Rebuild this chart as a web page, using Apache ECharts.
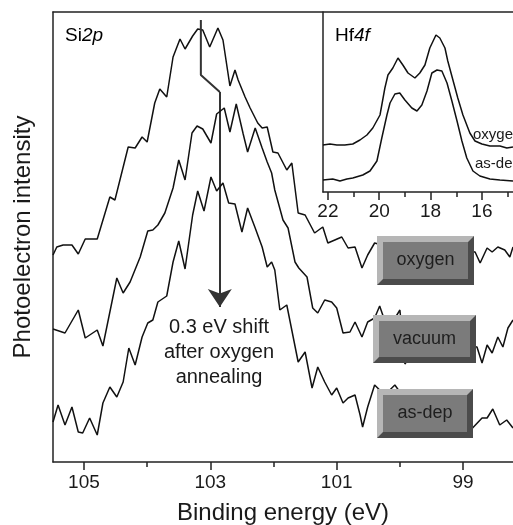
<!DOCTYPE html>
<html>
<head>
<meta charset="utf-8">
<script src="https://cdn.jsdelivr.net/npm/echarts@6/dist/echarts.min.js"></script>
<style>
html, body { margin: 0; padding: 0; background: #fff; }
#chart { width: 513px; height: 525px; }
</style>
</head>
<body>
<div id="chart"></div>
<script>
// Si2p spectra, [binding energy (eV), intensity (a.u.)]
var si2pOxygen = [
  [105.49, 207], [105.43, 215], [105.33, 217], [105.19, 217], [105.09, 208], [104.98, 223],
  [104.79, 223], [104.59, 265], [104.51, 262], [104.30, 315], [104.19, 314], [104.08, 325],
  [104.00, 320], [103.88, 359], [103.80, 373], [103.69, 365], [103.59, 405], [103.48, 423],
  [103.40, 413], [103.28, 426], [103.20, 433], [103.12, 432], [103.01, 415], [102.88, 434],
  [102.80, 422], [102.69, 376], [102.61, 392], [102.56, 382], [102.45, 365], [102.37, 354],
  [102.25, 339], [102.18, 334], [102.10, 335], [102.01, 310], [101.93, 309], [101.79, 292],
  [101.71, 299], [101.61, 249], [101.50, 247], [101.35, 229], [101.22, 235], [101.14, 219],
  [101.03, 222], [100.92, 225], [100.82, 214], [100.71, 215], [100.60, 194], [100.51, 207],
  [100.40, 219], [100.00, 212], [99.53, 207], [99.13, 212], [98.81, 210], [98.73, 199],
  [98.62, 214], [98.54, 210], [98.45, 215], [98.34, 212], [98.26, 205], [98.21, 215]
];
var si2pVacuum = [
  [105.49, 133], [105.30, 129], [105.09, 152], [104.98, 124], [104.79, 132], [104.70, 116],
  [104.48, 184], [104.38, 169], [104.27, 180], [104.11, 205], [103.99, 231], [103.91, 232],
  [103.83, 237], [103.72, 249], [103.59, 274], [103.50, 302], [103.40, 282], [103.29, 329],
  [103.21, 336], [103.12, 333], [102.99, 319], [102.90, 348], [102.78, 354], [102.69, 330],
  [102.59, 358], [102.48, 328], [102.41, 310], [102.29, 334], [102.18, 314], [102.10, 300],
  [102.03, 289], [101.98, 272], [101.85, 242], [101.77, 234], [101.66, 200], [101.60, 194],
  [101.47, 185], [101.38, 154], [101.30, 149], [101.19, 162], [101.08, 160], [101.00, 154],
  [100.90, 129], [100.79, 130], [100.71, 140], [100.60, 125], [100.51, 140], [100.40, 144],
  [100.32, 156], [100.19, 132], [100.00, 152], [99.92, 98], [99.68, 122], [99.37, 122],
  [99.05, 117], [98.78, 115], [98.70, 99], [98.62, 117], [98.54, 109], [98.45, 125],
  [98.37, 115], [98.29, 134], [98.21, 142]
];
var si2pAsDep = [
  [105.49, 40], [105.41, 57], [105.30, 37], [105.19, 55], [105.09, 30], [105.02, 29],
  [104.91, 44], [104.79, 27], [104.70, 59], [104.59, 75], [104.48, 65], [104.38, 80],
  [104.29, 114], [104.19, 97], [104.08, 125], [103.99, 139], [103.91, 142], [103.83, 160],
  [103.69, 166], [103.59, 200], [103.50, 221], [103.40, 193], [103.28, 247], [103.20, 271],
  [103.10, 251], [102.99, 285], [102.90, 271], [102.80, 279], [102.71, 259], [102.61, 258],
  [102.50, 230], [102.41, 254], [102.29, 234], [102.18, 215], [102.10, 195], [102.03, 200],
  [101.98, 192], [101.90, 152], [101.79, 157], [101.61, 100], [101.50, 110], [101.39, 74],
  [101.30, 95], [101.19, 80], [101.08, 67], [101.00, 74], [100.90, 59], [100.82, 64],
  [100.71, 67], [100.63, 47], [100.59, 35], [100.51, 55], [100.40, 77], [100.24, 67],
  [100.08, 77], [99.68, 42], [99.21, 37], [98.85, 34], [98.70, 44], [98.62, 44],
  [98.53, 53], [98.42, 37], [98.31, 42], [98.21, 34]
];

// Hf4f inset spectra
var hf4fOxygen = [
  [22.19, 47], [21.92, 48], [21.65, 47], [21.34, 47], [21.03, 48], [20.75, 52], [20.48, 57],
  [20.25, 64], [19.97, 77], [19.78, 104], [19.66, 117], [19.47, 124], [19.27, 134], [19.08, 127],
  [18.88, 119], [18.61, 114], [18.42, 119], [18.22, 127], [18.03, 144], [17.79, 157], [17.64, 154],
  [17.44, 144], [17.33, 131], [17.13, 112], [16.94, 94], [16.74, 77], [16.47, 59], [16.27, 51],
  [16.00, 48], [15.69, 46], [15.30, 46], [15.03, 44], [14.79, 45]
];
var hf4fAsDep = [
  [22.19, 12], [21.81, 13], [21.53, 11], [21.26, 13], [21.03, 14], [20.64, 17], [20.36, 21],
  [20.09, 31], [19.90, 54], [19.70, 77], [19.58, 89], [19.39, 98], [19.20, 99], [19.00, 92],
  [18.73, 84], [18.53, 81], [18.34, 87], [18.14, 101], [17.95, 119], [17.75, 122], [17.56, 121],
  [17.36, 109], [17.17, 91], [16.97, 71], [16.78, 51], [16.59, 34], [16.35, 21], [16.08, 16],
  [15.69, 13], [15.30, 12], [14.79, 11]
];

var siMajorTicks = [99, 101, 103, 105];
var siMinorTicks = [100, 102, 104];
var hfMajorTicks = [16, 18, 20, 22];
var hfMinorTicks = [15, 17, 19, 21];

// 0.3 eV shift marker (binding energy, intensity)
var shiftPath = [[103.15, 442], [103.15, 387], [102.85, 370]];
var shiftArrow = [[102.85, 370], [102.85, 155]];

var sampleLabels = ['oxygen', 'vacuum', 'as-dep'];
var insetLabels = ['oxygen', 'as-dep'];

var FONT = 'Liberation Sans, Arial, Helvetica, sans-serif';
var INK = '#1a1a1a';
var AXIS = '#222';

// button boxes [x, y, w, h] in px
var buttonBoxes = [[377, 236, 97, 49], [373, 315, 103, 48], [377, 389, 96, 49]];

function bevelButton(box, label) {
  var x = box[0], y = box[1], w = box[2], h = box[3], b = 6;
  return {
    type: 'group',
    z: 100,
    children: [
      { type: 'rect', z: 100, shape: { x: x, y: y, width: w, height: h }, style: { fill: '#4b4b4b' } },
      { type: 'polygon', z: 101, shape: { points: [[x, y], [x + w, y], [x + w - b, y + b], [x + b, y + b], [x + b, y + h - b], [x, y + h]] }, style: { fill: '#b6b6b6' } },
      { type: 'rect', z: 102, shape: { x: x + b, y: y + b, width: w - 2 * b, height: h - 2 * b }, style: { fill: '#7b7b7b' } },
      { type: 'text', z: 103, style: { x: x + w / 2, y: y + h / 2, text: label, fill: '#1e1e1e', font: '18px ' + FONT, align: 'center', verticalAlign: 'middle', textAlign: 'center', textVerticalAlign: 'middle' } }
    ]
  };
}

function lineSeries(data, xi, yi) {
  return {
    type: 'line',
    xAxisIndex: xi,
    yAxisIndex: yi,
    data: data,
    showSymbol: false,
    symbol: 'none',
    animation: false,
    lineStyle: { color: '#111', width: 1.5 }
  };
}

var chart = echarts.init(document.getElementById('chart'));

var option = {
  backgroundColor: '#fff',
  animation: false,
  grid: [
    { left: 53, right: 0, top: 12, bottom: 63, outerBoundsMode: 'none' },
    { left: 323, right: 0, top: 12, bottom: 333, outerBoundsMode: 'none' }
  ],
  xAxis: [
    {
      gridIndex: 0, type: 'value', inverse: true, min: 98.21, max: 105.49, position: 'bottom',
      axisLine: { show: true, lineStyle: { color: AXIS, width: 1.5 } },
      axisTick: { show: true, inside: false, length: 8, customValues: siMajorTicks, lineStyle: { color: AXIS, width: 1.5 } },
      axisLabel: { show: true, customValues: siMajorTicks, fontSize: 19, fontFamily: FONT, color: INK, margin: 11 },
      splitLine: { show: false },
      name: 'Binding energy (eV)', nameLocation: 'middle', nameGap: 39,
      nameTextStyle: { fontSize: 24, fontFamily: FONT, color: INK }
    },
    {
      gridIndex: 0, type: 'value', inverse: true, min: 98.21, max: 105.49, position: 'bottom',
      axisLine: { show: false },
      axisTick: { show: true, inside: false, length: 5, customValues: siMinorTicks, lineStyle: { color: AXIS, width: 1.5 } },
      axisLabel: { show: false },
      splitLine: { show: false }
    },
    {
      gridIndex: 0, type: 'value', min: 0, max: 1, position: 'top',
      axisLine: { show: true, lineStyle: { color: AXIS, width: 1.5 } },
      axisTick: { show: false }, axisLabel: { show: false }, splitLine: { show: false }
    },
    {
      gridIndex: 1, type: 'value', inverse: true, min: 14.79, max: 22.19, position: 'bottom',
      axisLine: { show: true, lineStyle: { color: AXIS, width: 1.5 } },
      axisTick: { show: true, inside: false, length: 8, customValues: hfMajorTicks, lineStyle: { color: AXIS, width: 1.5 } },
      axisLabel: { show: true, customValues: hfMajorTicks, fontSize: 19, fontFamily: FONT, color: INK, margin: 10 },
      splitLine: { show: false }
    },
    {
      gridIndex: 1, type: 'value', inverse: true, min: 14.79, max: 22.19, position: 'bottom',
      axisLine: { show: false },
      axisTick: { show: true, inside: false, length: 5, customValues: hfMinorTicks, lineStyle: { color: AXIS, width: 1.5 } },
      axisLabel: { show: false },
      splitLine: { show: false }
    }
  ],
  yAxis: [
    {
      gridIndex: 0, type: 'value', min: 0, max: 450,
      axisLine: { show: true, lineStyle: { color: AXIS, width: 1.5 } },
      axisTick: { show: false }, axisLabel: { show: false }, splitLine: { show: false },
      name: 'Photoelectron intensity', nameLocation: 'middle', nameGap: 18,
      nameTextStyle: { fontSize: 24, fontFamily: FONT, color: INK }
    },
    {
      gridIndex: 1, type: 'value', min: 0, max: 180,
      axisLine: { show: true, lineStyle: { color: AXIS, width: 1.5 } },
      axisTick: { show: false }, axisLabel: { show: false }, splitLine: { show: false }
    }
  ],
  series: [
    lineSeries(si2pOxygen, 0, 0),
    lineSeries(si2pVacuum, 0, 0),
    lineSeries(si2pAsDep, 0, 0),
    lineSeries(hf4fOxygen, 3, 1),
    lineSeries(hf4fAsDep, 3, 1),
    {
      type: 'line', xAxisIndex: 0, yAxisIndex: 0, data: shiftPath, symbol: 'none', animation: false,
      lineStyle: { color: '#333', width: 2 }
    },
    {
      type: 'lines', coordinateSystem: 'cartesian2d', xAxisIndex: 0, yAxisIndex: 0, animation: false,
      symbol: ['none', 'arrow'], symbolSize: [9, 18],
      lineStyle: { color: '#333', width: 2, opacity: 1 },
      data: [{ coords: shiftArrow }]
    }
  ],
  graphic: [
    { type: 'text', z: 50, style: { x: 65, y: 36, text: '{n|Si}{i|2p}', verticalAlign: 'middle', textVerticalAlign: 'middle',
      rich: { n: { fontSize: 19, fontFamily: FONT, color: INK }, i: { fontSize: 19, fontFamily: FONT, fontStyle: 'italic', color: INK } } } },
    { type: 'text', z: 50, style: { x: 335, y: 36, text: '{n|Hf}{i|4f}', verticalAlign: 'middle', textVerticalAlign: 'middle',
      rich: { n: { fontSize: 19, fontFamily: FONT, color: INK }, i: { fontSize: 19, fontFamily: FONT, fontStyle: 'italic', color: INK } } } },
    { type: 'text', z: 50, style: { x: 473, y: 135, text: insetLabels[0], font: '15px ' + FONT, fill: INK, verticalAlign: 'middle', textVerticalAlign: 'middle' } },
    { type: 'text', z: 50, style: { x: 475, y: 164, text: insetLabels[1], font: '15px ' + FONT, fill: INK, verticalAlign: 'middle', textVerticalAlign: 'middle' } },
    { type: 'text', z: 50, style: { x: 219, y: 352, text: '0.3 eV shift\nafter oxygen\nannealing', font: '20px ' + FONT, fill: INK, lineHeight: 25,
      align: 'center', verticalAlign: 'middle', textAlign: 'center', textVerticalAlign: 'middle' } },
    bevelButton(buttonBoxes[0], sampleLabels[0]),
    bevelButton(buttonBoxes[1], sampleLabels[1]),
    bevelButton(buttonBoxes[2], sampleLabels[2])
  ]
};

chart.setOption(option);
</script>
</body>
</html>
